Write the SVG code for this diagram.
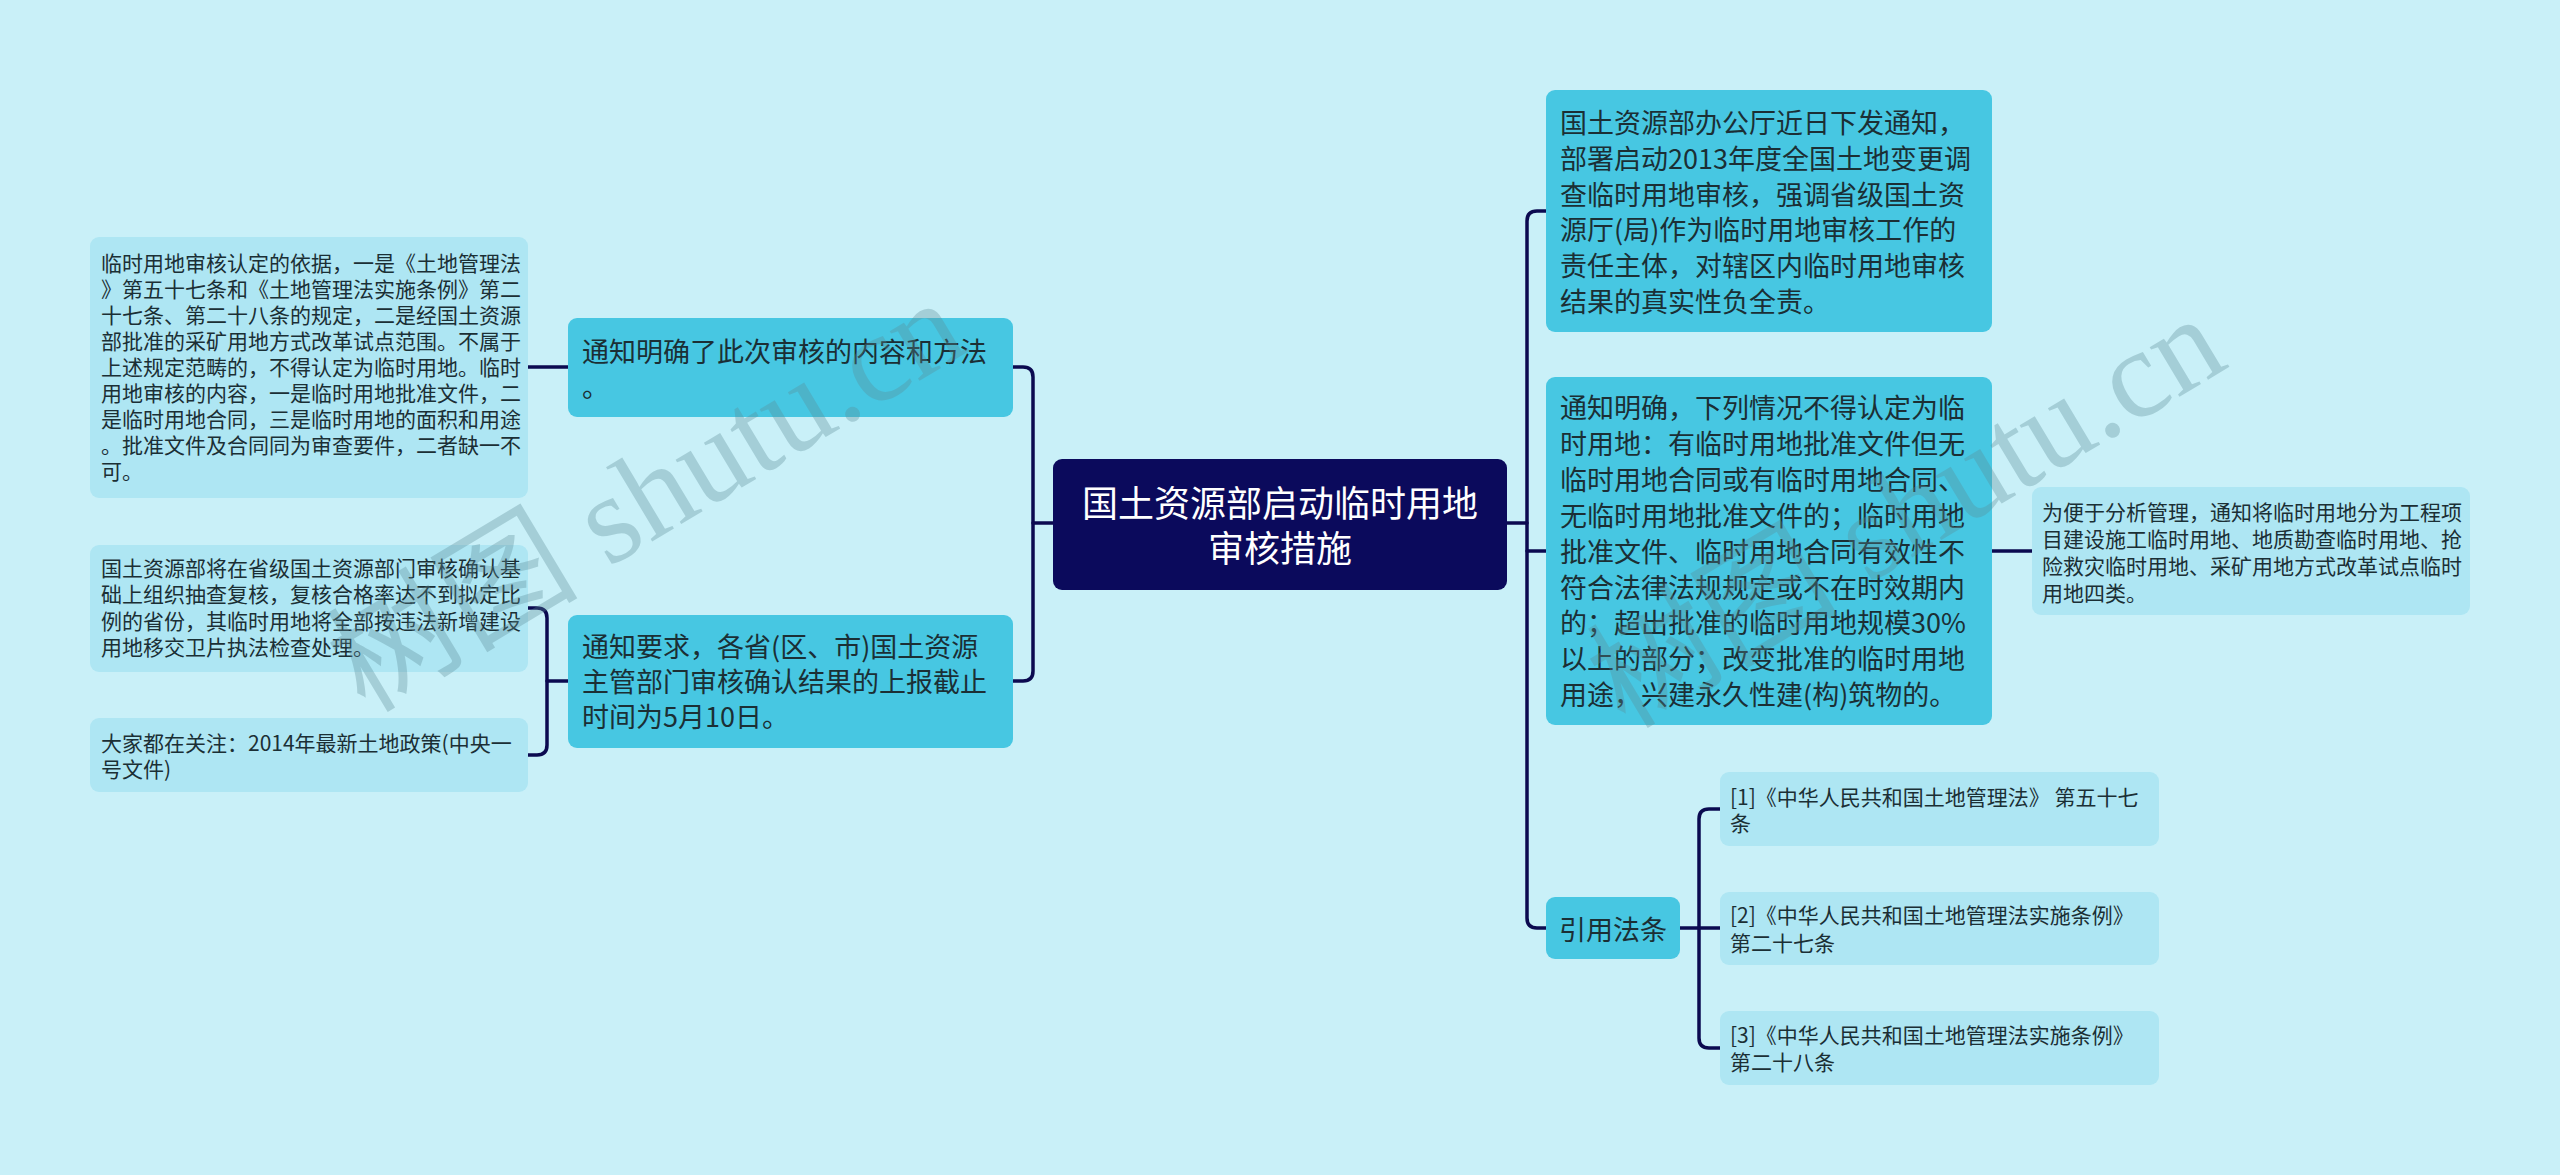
<svg xmlns="http://www.w3.org/2000/svg" width="2560" height="1175" viewBox="0 0 2560 1175">
<style>
  .bg{fill:#c9f0f8}
  .mid{fill:#47c7e2}
  .leaf{fill:#aee6f3}
  .root{fill:#0b0a5c}
  .t{font-family:"Noto Sans CJK SC","Noto Sans",sans-serif;fill:#1b2f35}
  .ts{font-size:21px}
  .tm{font-size:27px}
  .tr{font-size:36px;fill:#ffffff;text-anchor:middle}
  .conn{fill:none;stroke:#0b0a50;stroke-width:3.5;stroke-linecap:round}
  .wm{font-size:126px;fill:#5c8b96;opacity:0.33}
</style>
<rect class="bg" x="0" y="0" width="2560" height="1175"/>

<g id="connectors">
  <path class="conn" d="M528,367 H568"/>
  <path class="conn" d="M528,608 H537 Q547,608 547,618 V745 Q547,755 537,755 H528"/>
  <path class="conn" d="M547,681 H568"/>
  <path class="conn" d="M1013,367 H1023 Q1033,367 1033,377 V671 Q1033,681 1023,681 H1013"/>
  <path class="conn" d="M1033,523 H1053"/>
  <path class="conn" d="M1507,523 H1527"/>
  <path class="conn" d="M1546,211 H1537 Q1527,211 1527,221 V918 Q1527,928 1537,928 H1546"/>
  <path class="conn" d="M1527,551 H1546"/>
  <path class="conn" d="M1992,551 H2032"/>
  <path class="conn" d="M1680,928 H1720"/>
  <path class="conn" d="M1720,809 H1709 Q1699,809 1699,819 V1038 Q1699,1048 1709,1048 H1720"/>
</g>

<g id="n-root">
  <rect class="root" x="1053" y="459" width="454" height="131" rx="9"/>
  <text class="t tr" x="1280" y="517">国土资源部启动临时用地</text>
  <text class="t tr" x="1280" y="562">审核措施</text>
</g>

<g id="n-left1">
  <rect class="mid" x="568" y="318" width="445" height="99" rx="9"/>
  <text class="t tm" x="582" y="362">通知明确了此次审核的内容和方法</text>
  <text class="t tm" x="582" y="397">。</text>
</g>

<g id="n-left1-leaf">
  <rect class="leaf" x="90" y="237" width="438" height="261" rx="9"/>
  <text class="t ts" x="101" y="271">临时用地审核认定的依据，一是《土地管理法</text>
  <text class="t ts" x="101" y="297">》第五十七条和《土地管理法实施条例》第二</text>
  <text class="t ts" x="101" y="323">十七条、第二十八条的规定，二是经国土资源</text>
  <text class="t ts" x="101" y="349">部批准的采矿用地方式改革试点范围。不属于</text>
  <text class="t ts" x="101" y="375">上述规定范畴的，不得认定为临时用地。临时</text>
  <text class="t ts" x="101" y="401">用地审核的内容，一是临时用地批准文件，二</text>
  <text class="t ts" x="101" y="427">是临时用地合同，三是临时用地的面积和用途</text>
  <text class="t ts" x="101" y="453">。批准文件及合同同为审查要件，二者缺一不</text>
  <text class="t ts" x="101" y="479">可。</text>
</g>

<g id="n-left2">
  <rect class="mid" x="568" y="615" width="445" height="133" rx="9"/>
  <text class="t tm" x="582" y="657">通知要求，各省(区、市)国土资源</text>
  <text class="t tm" x="582" y="692">主管部门审核确认结果的上报截止</text>
  <text class="t tm" x="582" y="727">时间为5月10日。</text>
</g>

<g id="n-left2-leafA">
  <rect class="leaf" x="90" y="545" width="438" height="127" rx="9"/>
  <text class="t ts" x="101" y="576">国土资源部将在省级国土资源部门审核确认基</text>
  <text class="t ts" x="101" y="602">础上组织抽查复核，复核合格率达不到拟定比</text>
  <text class="t ts" x="101" y="629">例的省份，其临时用地将全部按违法新增建设</text>
  <text class="t ts" x="101" y="655">用地移交卫片执法检查处理。</text>
</g>

<g id="n-left2-leafB">
  <rect class="leaf" x="90" y="718" width="438" height="74" rx="9"/>
  <text class="t ts" x="101" y="751">大家都在关注：2014年最新土地政策(中央一</text>
  <text class="t ts" x="101" y="777">号文件)</text>
</g>

<g id="n-right1">
  <rect class="mid" x="1546" y="90" width="446" height="242" rx="9"/>
  <text class="t tm" x="1560" y="133">国土资源部办公厅近日下发通知，</text>
  <text class="t tm" x="1560" y="169">部署启动2013年度全国土地变更调</text>
  <text class="t tm" x="1560" y="205">查临时用地审核，强调省级国土资</text>
  <text class="t tm" x="1560" y="240">源厅(局)作为临时用地审核工作的</text>
  <text class="t tm" x="1560" y="276">责任主体，对辖区内临时用地审核</text>
  <text class="t tm" x="1560" y="312">结果的真实性负全责。</text>
</g>

<g id="n-right2">
  <rect class="mid" x="1546" y="377" width="446" height="348" rx="9"/>
  <text class="t tm" x="1560" y="418">通知明确，下列情况不得认定为临</text>
  <text class="t tm" x="1560" y="454">时用地：有临时用地批准文件但无</text>
  <text class="t tm" x="1560" y="490">临时用地合同或有临时用地合同、</text>
  <text class="t tm" x="1560" y="526">无临时用地批准文件的；临时用地</text>
  <text class="t tm" x="1560" y="562">批准文件、临时用地合同有效性不</text>
  <text class="t tm" x="1560" y="598">符合法律法规规定或不在时效期内</text>
  <text class="t tm" x="1560" y="633">的；超出批准的临时用地规模30%</text>
  <text class="t tm" x="1560" y="669">以上的部分；改变批准的临时用地</text>
  <text class="t tm" x="1560" y="705">用途，兴建永久性建(构)筑物的。</text>
</g>

<g id="n-right2-leaf">
  <rect class="leaf" x="2032" y="487" width="438" height="128" rx="9"/>
  <text class="t ts" x="2042" y="520">为便于分析管理，通知将临时用地分为工程项</text>
  <text class="t ts" x="2042" y="547">目建设施工临时用地、地质勘查临时用地、抢</text>
  <text class="t ts" x="2042" y="574">险救灾临时用地、采矿用地方式改革试点临时</text>
  <text class="t ts" x="2042" y="601">用地四类。</text>
</g>

<g id="n-right3">
  <rect class="mid" x="1546" y="897" width="134" height="62" rx="9"/>
  <text class="t tm" x="1613" y="940" text-anchor="middle">引用法条</text>
</g>

<g id="n-ref1">
  <rect class="leaf" x="1720" y="772" width="439" height="74" rx="9"/>
  <text class="t ts" x="1730" y="805">[1]《中华人民共和国土地管理法》 第五十七</text>
  <text class="t ts" x="1730" y="831">条</text>
</g>

<g id="n-ref2">
  <rect class="leaf" x="1720" y="892" width="439" height="73" rx="9"/>
  <text class="t ts" x="1730" y="923">[2]《中华人民共和国土地管理法实施条例》</text>
  <text class="t ts" x="1730" y="951">第二十七条</text>
</g>

<g id="n-ref3">
  <rect class="leaf" x="1720" y="1011" width="439" height="74" rx="9"/>
  <text class="t ts" x="1730" y="1043">[3]《中华人民共和国土地管理法实施条例》</text>
  <text class="t ts" x="1730" y="1070">第二十八条</text>
</g>

<g id="watermarks">
  <text class="wm" transform="translate(365,714) rotate(-31)"><tspan font-family="'Noto Sans CJK SC',sans-serif">树图</tspan><tspan font-family="'Liberation Serif',serif"> shutu.cn</tspan></text>
  <text class="wm" transform="translate(1625,730) rotate(-31)"><tspan font-family="'Noto Sans CJK SC',sans-serif">树图</tspan><tspan font-family="'Liberation Serif',serif"> shutu.cn</tspan></text>
</g>
</svg>
